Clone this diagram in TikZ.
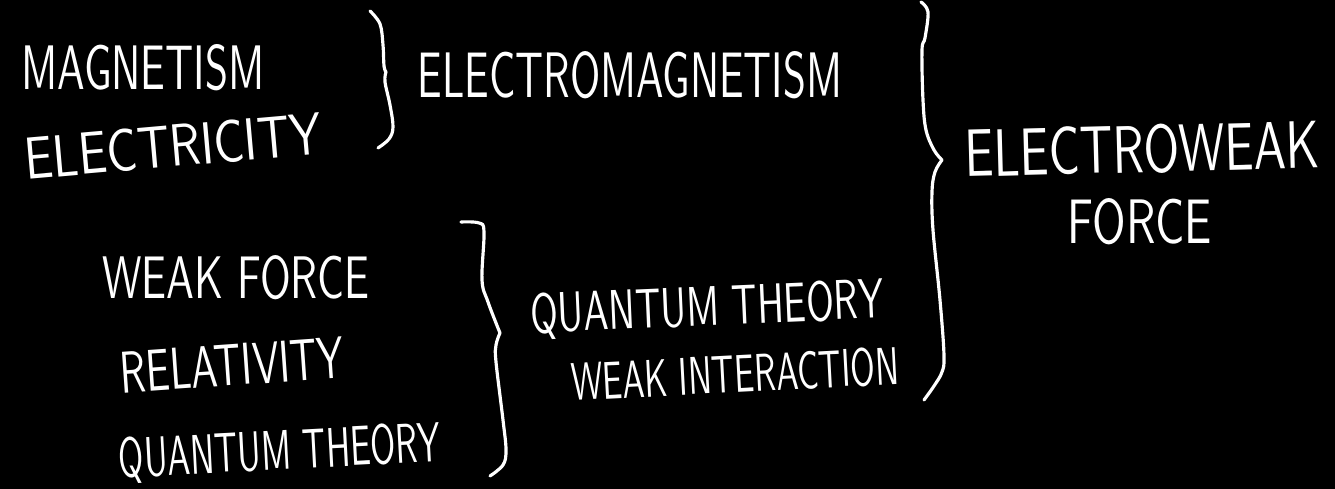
\documentclass[tikz,border=0pt]{standalone}
\usepackage{graphicx}
\newcommand\hw[3]{\resizebox{#1cm}{#2cm}{\sffamily #3}}
\begin{document}
\begin{tikzpicture}[x=0.01cm,y=-0.01cm,
  txt/.style={text=white,inner sep=0pt,anchor=center},
  brace/.style={draw=white,line width=0.9pt,line cap=round,line join=round}]
\fill[black] (0,0) rectangle (1335,489);
\useasboundingbox (0,0) rectangle (1335,489);
% texts
\node[txt] (mag) at (143,68) {\hw{2.43}{0.45}{MAGNETISM}};
\node[txt,rotate=5] (ele) at (173,146) {\hw{2.98}{0.42}{ELECTRICITY}};
\node[txt] (em) at (630,75) {\hw{4.24}{0.46}{ELECTROMAGNETISM}};
\node[txt,rotate=1.5] (ew) at (1142,149) {\hw{3.55}{0.48}{ELECTROWEAK}};
\node[txt] (force) at (1140,222) {\hw{1.44}{0.45}{FORCE}};
\node[txt] (wf) at (236,278) {\hw{2.67}{0.43}{WEAK FORCE}};
\node[txt,rotate=4] (rel) at (232,365) {\hw{2.24}{0.41}{RELATIVITY}};
\node[txt,rotate=3] (qt1) at (280,453) {\hw{3.22}{0.40}{QUANTUM THEORY}};
\node[txt,rotate=2.5] (qt2) at (707,309) {\hw{3.53}{0.40}{QUANTUM THEORY}};
\node[txt,rotate=3] (wi) at (735,374) {\hw{3.28}{0.38}{WEAK INTERACTION}};
% braces
\draw[brace] plot[smooth,tension=0.6] coordinates {(370,11) (380,24) (383,45) (384,66) (386,72)};
\draw[brace] plot[smooth,tension=0.6] coordinates {(386,72) (385,82) (390,105) (393,127) (389,139) (378,148)};
\draw[brace] plot[smooth,tension=0.6] coordinates {(921,2) (928,12) (925,38) (922,50) (923,100) (926,130) (934,150) (942,160)};
\draw[brace] plot[smooth,tension=0.6] coordinates {(942,160) (935,172) (932,192) (933,230) (940,300) (944,355) (942,372) (934,386) (924,400)};
\draw[brace] plot[smooth,tension=0.6] coordinates {(461,222) (479,223) (484,232) (482,280) (488,302) (500,333)};
\draw[brace] plot[smooth,tension=0.6] coordinates {(500,333) (496,345) (496,362) (503,420) (506,450) (503,465) (490,476)};
\end{tikzpicture}
\end{document}
